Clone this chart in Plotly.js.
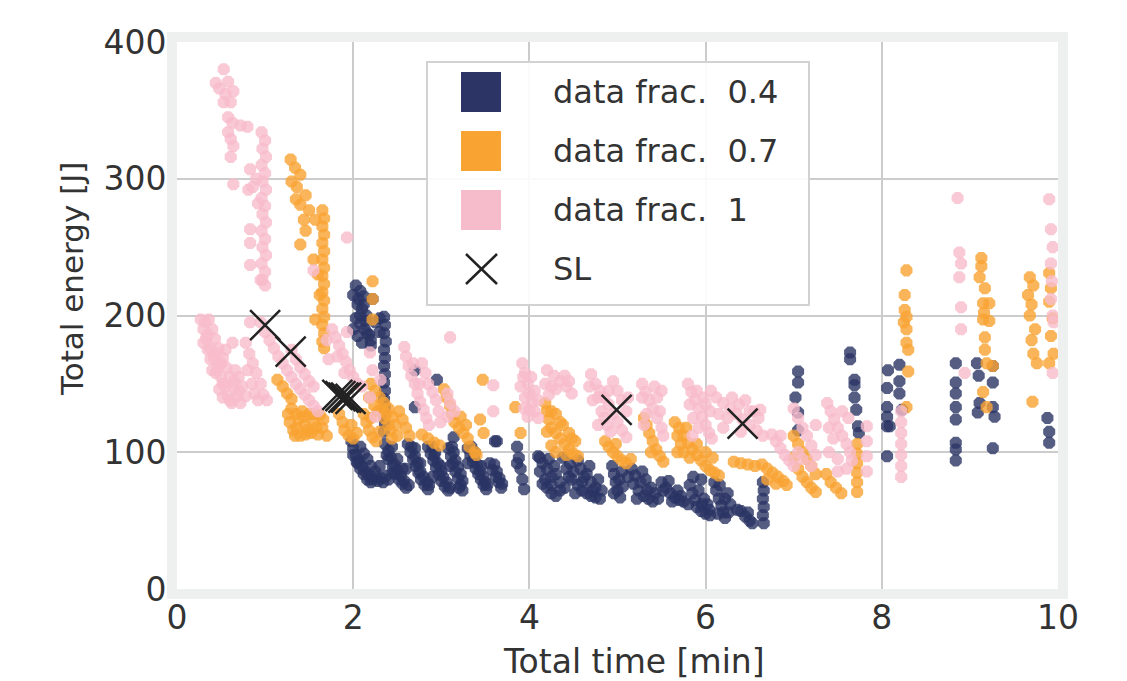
<!DOCTYPE html>
<html><head><meta charset="utf-8">
<script src="https://cdn.plot.ly/plotly-3.0.1.min.js"></script>
<style>body{margin:0;background:#fff}#chart{width:1127px;height:681px}</style>
</head><body><div id="chart"></div>
<script>
// ---- data: [time min, energy J]
var seriesNames = ["data frac. 0.4", "data frac. 0.7", "data frac. 1", "SL"];
var navyPoints = [
[2.03,222],[2.08,218],[2.12,214],[2.05,208],[2.1,205],[2.15,200],[2.03,198],[2.08,194],[2.13,190],[2.18,186],[2.05,185],[2.1,180],[2.2,178],[2.22,212],[2.25,195],[2.16,187],[2.2,182],
[2.0,215],[2.06,212],[2.12,208],[2.0,190],[2.14,196],[2.08,200],
[2.35,199],[2.36,193],[2.35,187],[2.37,181],[2.35,175],[2.36,169],[2.35,163],[2.36,157],[2.35,151],[2.36,145],[2.35,139],[2.36,133],[2.35,127],[2.36,121],[2.35,115],[2.3,198],[2.3,188],
[1.98,108],[2.0,103],[2.03,98],[2.07,94],[2.1,90],[2.14,86],[2.18,83],[2.22,80],[2.28,79],[2.34,78],[2.4,80],[2.08,104],[2.12,99],[2.16,95],[2.2,90],[2.25,86],[2.05,92],[2.3,90],
[2.0,98],[2.04,93],[2.08,88],[2.12,84],[2.16,80],[2.2,78],[2.26,82],[2.32,81],[2.38,83],
[2.36,106],[2.4,101],[2.43,96],[2.47,91],[2.5,87],[2.54,83],[2.58,79],[2.63,76],[2.44,104],[2.5,95],[2.56,88],[2.45,85],
[2.4,95],[2.45,90],[2.48,84],[2.52,80],[2.56,77],[2.6,74],[2.38,98],
[2.62,106],[2.65,100],[2.68,95],[2.71,90],[2.74,85],[2.77,80],[2.81,76],[2.85,73],[2.7,103],[2.76,92],[2.6,88],
[2.66,104],[2.7,97],[2.73,92],[2.76,86],[2.8,82],[2.84,78],[2.86,76],
[2.85,104],[2.88,99],[2.91,94],[2.94,89],[2.97,84],[3.0,79],[3.04,75],[3.08,72],[2.93,100],[2.99,90],[2.9,82],
[2.9,104],[2.92,97],[2.96,92],[3.0,86],[3.02,82],[3.06,78],[3.1,74],
[3.08,103],[3.11,97],[3.13,92],[3.16,86],[3.19,81],[3.22,76],[3.24,72],[3.14,100],[3.1,90],
[3.12,104],[3.16,94],[3.19,89],[3.22,84],[3.24,79],[3.2,74],
[3.3,103],[3.33,98],[3.36,93],[3.39,88],[3.42,84],[3.45,80],[3.48,76],[3.51,73],[3.38,100],[3.3,92],[3.45,90],
[3.34,104],[3.37,96],[3.41,91],[3.44,86],[3.48,82],[3.5,78],[3.52,76],
[3.55,92],[3.58,87],[3.62,82],[3.65,78],[3.68,74],[3.63,108],[3.6,91],[3.63,86],[3.66,81],[3.69,77],
[3.88,96],[3.9,88],[3.92,80],[3.94,73],[3.86,92],
[2.95,153],[2.7,133],[2.7,160],[3.14,111],[3.61,108],[3.86,104],
[4.1,97],[4.15,92],[4.12,86],[4.18,80],[4.2,74],[4.25,70],[4.3,68],[4.22,95],[4.28,90],[4.3,84],[4.35,78],[4.4,74],[4.38,96],[4.42,88],[4.15,77],[4.25,82],
[4.12,96],[4.2,88],[4.25,76],[4.35,72],[4.45,82],
[4.46,92],[4.5,86],[4.48,80],[4.55,76],[4.6,72],[4.65,70],[4.7,68],[4.75,67],[4.8,66],[4.58,88],[4.62,82],[4.7,78],[4.75,74],[4.82,72],[4.55,94],[4.68,90],
[4.52,70],[4.6,78],[4.65,84],[4.72,72],[4.78,80],
[4.94,90],[4.96,84],[4.98,78],[5.0,72],[5.03,67],[5.05,86],[5.06,75],[4.96,70],[5.02,80],
[5.16,88],[5.2,83],[5.18,77],[5.24,72],[5.3,68],[5.35,66],[5.4,64],[5.28,86],[5.32,80],[5.38,74],[5.43,70],[5.22,66],
[5.12,82],[5.26,78],[5.34,72],[5.46,66],
[5.5,78],[5.55,74],[5.6,70],[5.65,67],[5.7,65],[5.75,64],[5.58,79],[5.68,72],[5.52,72],[5.62,64],[5.72,68],
[5.82,76],[5.85,70],[5.88,65],[5.9,60],[5.95,57],[6.0,55],[6.05,54],[5.92,72],[5.98,66],[6.02,62],[5.86,82],[5.95,80],[5.8,62],[5.96,62],[6.04,58],
[6.1,78],[6.12,72],[6.15,66],[6.18,61],[6.2,56],[6.22,52],[6.25,70],[6.28,62],[6.14,55],[6.16,76],[6.22,66],[6.26,56],
[6.4,57],[6.45,53],[6.5,50],[6.53,48],[6.36,58],[6.48,56],
[6.65,78],[6.66,72],[6.65,66],[6.66,60],[6.65,54],[6.66,48],
[7.05,159],[7.05,151],[7.02,140],[7.05,129],[7.05,116],
[7.64,173],[7.64,168],[7.69,153],[7.69,149],[7.69,140],[7.71,131],[7.73,119],[7.74,114],
[8.07,160],[8.06,147],[8.2,164],[8.2,152],[8.2,143],[8.06,133],[8.06,126],[8.06,119],[8.09,119],[8.23,131],[8.06,97],
[8.84,165],[8.84,151],[8.84,143],[8.84,133],[8.84,124],[8.84,107],[8.84,102],[8.84,94],
[9.08,165],[9.1,156],[9.26,163],[9.26,151],[9.11,136],[9.09,129],[9.26,133],[9.28,126],[9.26,103],
[9.88,125],[9.9,115],[9.9,107]
];
var orangePoints = [
[1.29,314],[1.34,308],[1.4,303],[1.3,298],[1.36,294],[1.46,288],[1.4,281],[1.5,277],[1.57,270],[1.46,262],[1.4,252],[1.35,285],[1.44,270],
[1.65,277],[1.67,271],[1.65,265],[1.67,259],[1.65,253],[1.67,247],[1.65,241],[1.67,235],[1.65,229],[1.67,223],[1.65,217],[1.67,211],[1.65,205],[1.67,199],[1.65,193],[1.67,187],[1.65,181],[1.67,176],[1.55,241],[1.57,197],[1.6,230],[1.62,215],
[1.14,153],[1.2,148],[1.25,143],[1.3,139],
[1.3,132],[1.35,128],[1.28,122],[1.32,116],[1.4,112],[1.45,120],[1.5,128],[1.55,122],[1.52,114],[1.6,113],[1.65,118],[1.7,112],[1.38,124],[1.62,127],[1.34,112],[1.46,113],
[1.26,128],[1.42,130],[1.48,116],[1.56,128],[1.58,118],[1.66,124],[1.36,118],[1.44,126],
[1.84,128],[1.88,122],[1.9,116],[1.95,112],[2.0,110],[2.04,114],[1.98,120],
[2.12,128],[2.15,122],[2.18,116],[2.22,111],[2.26,108],[2.2,125],
[2.2,150],[2.25,145],[2.3,140],[2.35,136],[2.4,132],[2.45,126],[2.48,120],[2.42,116],[2.5,112],[2.28,130],[2.35,125],[2.4,120],
[2.18,140],[2.24,134],[2.32,132],[2.38,128],[2.44,110],[2.3,115],
[2.52,130],[2.56,124],[2.6,118],[2.64,112],
[2.78,113],[2.85,110],[2.92,107],[2.98,105],
[3.03,146],[3.06,140],[3.1,134],[3.12,128],[3.15,122],[3.2,118],[3.25,114],[3.3,110],[3.22,126],[3.28,120],[3.32,104],[3.38,100],[3.4,98],
[3.47,153],[3.44,124],[3.48,114],[3.84,133],[3.9,114],[2.22,225],[2.22,212],[2.22,197],
[4.18,136],[4.2,130],[4.22,124],[4.25,118],[4.3,114],[4.35,110],[4.4,106],[4.45,102],[4.5,99],[4.55,97],[4.3,128],[4.38,120],[4.45,114],[4.52,108],[4.25,105],
[4.2,115],[4.25,130],[4.35,122],[4.42,98],[4.48,110],[4.3,100],
[4.86,108],[4.9,104],[4.95,100],[5.0,97],[5.05,94],[5.1,92],[5.15,95],[4.98,106],
[5.3,125],[5.33,120],[5.36,114],[5.4,108],[5.44,102],[5.48,97],[5.52,93],[5.38,100],
[5.65,122],[5.7,118],[5.75,112],[5.8,107],[5.85,102],[5.9,98],[5.95,94],[6.0,90],[6.05,87],[6.1,85],[6.15,83],[5.72,106],[5.82,96],[5.68,100],[6.08,96],
[5.68,112],[5.75,100],[5.9,106],[6.0,100],[5.78,118],
[6.32,93],[6.4,92],[6.48,91],[6.56,90],
[6.64,91],[6.7,88],[6.76,85],[6.82,82],[6.88,79],[6.92,76],[6.7,80],[6.8,77],
[7.0,112],[7.05,106],[7.1,100],[7.15,95],[7.2,90],[7.05,88],[7.1,82],[7.15,78],[7.2,74],[7.25,71],[7.0,96],[7.25,84],
[7.37,84],[7.42,78],[7.48,74],[7.54,70],
[7.72,106],[7.72,99],[7.72,92],[7.72,85],[7.72,78],[7.72,71],
[8.28,233],[8.26,215],[8.26,204],[8.28,199],[8.28,190],[8.28,180],[8.3,175],[8.3,159],[8.28,133],[8.25,195],
[9.13,242],[9.13,236],[9.11,228],[9.17,220],[9.15,209],[9.22,209],[9.15,197],[9.22,196],[9.17,184],[9.17,175],[9.19,165],[9.26,163],[9.15,144],[9.19,133],[9.16,202],
[9.68,228],[9.72,222],[9.66,215],[9.7,208],[9.68,200],[9.74,190],[9.7,182],[9.72,172],[9.76,165],[9.71,137],
[9.9,231],[9.92,220],[9.9,210],[9.94,198],[9.92,185],[9.95,172],[9.9,165]
];
var pinkPoints = [
[0.53,380],[0.44,370],[0.58,371],[0.64,364],[0.53,356],[0.61,356],[0.58,345],[0.63,341],[0.72,339],[0.8,338],[0.58,334],[0.61,329],[0.64,324],[0.61,316],[0.64,296],[0.55,362],[0.48,366],
[0.96,334],[1.0,328],[0.97,322],[1.01,316],[0.96,310],[1.0,304],[0.97,298],[1.01,292],[0.96,286],[1.0,280],[0.97,274],[1.01,268],[0.96,262],[1.0,256],[0.97,250],[1.01,244],[0.96,238],[1.0,232],[0.97,226],[1.0,222],
[0.81,292],[0.83,307],[0.86,294],[0.83,263],[0.83,253],[0.83,237],[0.95,226],[0.92,282],[0.9,300],
[0.27,197],[0.36,197],[0.3,190],[0.4,190],[0.33,183],[0.43,183],[0.38,176],[0.47,176],[0.42,169],[0.52,169],[0.46,162],[0.56,162],[0.5,155],[0.6,155],[0.7,155],[0.55,148],[0.64,148],[0.74,148],[0.58,141],[0.68,141],[0.78,141],[0.62,136],[0.72,136],
[0.32,195],[0.35,186],[0.45,172],[0.5,165],[0.65,152],[0.7,145],[0.52,150],
[0.3,180],[0.38,168],[0.44,158],[0.48,146],[0.52,140],[0.6,138],[0.66,160],[0.4,160],[0.55,175],[0.35,175],
[0.78,180],[0.82,172],[0.86,165],[0.8,160],[0.9,158],[0.85,150],[0.95,150],[0.88,143],[0.98,142],[1.02,138],[0.92,138],[0.83,195],[0.63,180],
[0.95,195],[1.0,188],[1.05,182],[1.1,176],[1.15,170],[1.2,165],[1.25,160],[1.3,155],[1.35,150],[1.4,146],[1.45,142],[1.5,138],[1.55,134],[1.6,130],[1.3,175],[1.35,168],[1.4,162],[1.45,157],[1.5,152],[1.55,148],
[1.55,233],[1.93,257],
[1.76,190],[1.8,184],[1.84,178],[1.88,172],[1.92,166],[1.96,160],[2.0,155],[2.05,150],[2.1,148],[1.93,188],[1.82,170],[1.9,158],[1.7,182],[1.72,168],
[2.19,173],[2.19,140],[2.31,153],[2.25,126],[2.22,160],
[2.58,177],[2.6,170],[2.63,163],[2.66,156],[2.7,150],[2.73,143],[2.76,137],[2.8,131],[2.83,125],[2.86,120],[2.68,165],[2.75,150],
[2.78,165],[2.82,158],[2.85,150],[2.9,144],[2.94,138],[2.97,130],[2.99,122],
[3.1,184],[3.07,143],[3.07,126],[3.1,136],[3.15,130],[3.59,149],[3.59,130],[3.93,155],[4.0,131],
[3.92,165],[3.95,158],[3.98,150],[4.0,143],[4.03,137],[4.06,130],[4.1,125],[3.95,140],[4.02,155],
[3.9,148],[3.94,132],[4.06,145],[4.1,138],[3.98,126],
[4.2,160],[4.28,156],[4.35,152],[4.42,148],[4.48,143],[4.3,146],
[4.18,150],[4.25,148],[4.4,156],[4.45,152],[4.22,142],
[4.7,157],[4.75,150],[4.8,145],[4.85,140],[4.9,135],[4.95,128],[5.0,122],[5.05,116],[5.1,111],[4.82,130],[4.88,120],[5.0,145],[5.05,138],[4.72,138],[4.95,152],
[4.68,148],[4.78,140],[4.9,145],[4.85,125],[4.78,120],[5.1,130],[5.12,140],[4.92,115],
[5.28,150],[5.32,144],[5.36,138],[5.4,132],[5.45,125],[5.5,118],[5.52,112],[5.33,128],[5.45,140],
[5.28,140],[5.3,120],[5.42,148],[5.48,130],[5.5,145],
[5.8,150],[5.84,144],[5.88,138],[5.92,132],[5.96,126],[6.0,120],[6.04,114],[6.07,110],[5.86,125],[5.98,140],[6.05,130],
[5.82,135],[5.9,145],[5.92,118],[6.0,135],[6.06,145],[5.85,112],
[6.12,140],[6.2,136],[6.28,132],[6.35,128],[6.42,124],[6.5,120],[6.58,116],[6.65,112],[6.3,140],[6.45,138],[6.55,130],[6.2,118],
[6.15,128],[6.25,125],[6.38,135],[6.5,130],[6.6,125],[6.4,115],
[6.75,113],[6.8,108],[6.85,103],[6.9,98],[6.95,94],[7.0,90],[7.05,100],[6.85,112],
[7.0,132],[7.05,125],[7.1,118],[7.15,112],[7.2,105],[7.25,98],[7.1,95],[7.2,90],[7.25,120],
[7.38,136],[7.42,130],[7.46,124],[7.5,118],[7.55,112],[7.6,106],[7.64,100],[7.66,94],[7.6,88],[7.5,86],[7.4,100],[7.45,110],[7.55,130],[7.62,125],[7.4,118],[7.5,95],
[7.83,119],[7.83,108],[7.83,97],[7.83,86],
[8.22,130],[8.22,122],[8.22,114],[8.22,106],[8.22,98],[8.22,90],[8.22,82],
[6.62,131],[8.86,286],[8.88,246],[8.9,238],[8.88,228],[8.9,206],[8.9,190],[8.94,158],
[9.9,285],[9.92,263],[9.94,250],[9.92,238],[9.93,225],[9.92,212],[9.94,200],[9.95,195],[9.94,158]
];
var slX = [1.0, 1.29, 1.82, 1.855, 1.89, 1.92, 1.97, 4.99, 6.42];
var slY = [193, 173.5, 142, 141, 140, 140, 139, 131, 121];
var xTicks = [0, 2, 4, 6, 8, 10];
var yTicks = [0, 100, 200, 300, 400];
var seriesColors = ["#2b3464", "#f9a332", "#f7bccb"];

// ---- layout helpers
var W = 1127, H = 681, ML = 177, MR = 69, MT = 42, MB = 92;
var PW = W - ML - MR, PH = H - MT - MB;
function px(x) { return (x - ML) / PW; }
function py(y) { return (H - MB - y) / PH; }
var FONT = "DejaVu Sans, Verdana, sans-serif";

function scatterTrace(pts, color, name) {
  return {
    type: "scatter", mode: "markers", name: name, showlegend: false,
    x: pts.map(function (p) { return p[0]; }),
    y: pts.map(function (p) { return p[1]; }),
    marker: { symbol: "octagon", size: 13, color: color, opacity: 0.8, line: { width: 0 } },
    hoverinfo: "skip"
  };
}
var traces = [
  scatterTrace(navyPoints, seriesColors[0], seriesNames[0]),
  scatterTrace(orangePoints, seriesColors[1], seriesNames[1]),
  scatterTrace(pinkPoints, seriesColors[2], seriesNames[2]),
  { type: "scatter", mode: "markers", name: seriesNames[3], showlegend: false, x: slX, y: slY,
    marker: { symbol: "x-thin", size: 30, line: { width: 2.5, color: "#222222" } }, hoverinfo: "skip" }
];

// custom legend
var shapes = [
  { type: "rect", xref: "paper", yref: "paper", x0: px(427), x1: px(809), y0: py(305), y1: py(62),
    line: { color: "#d2d2d2", width: 2 }, fillcolor: "rgba(255,255,255,0.9)", layer: "above" }
];
var rowsY = [92, 151, 210, 269];
for (var i = 0; i < 3; i++) {
  shapes.push({ type: "rect", xref: "paper", yref: "paper", x0: px(461), x1: px(501),
    y0: py(rowsY[i] + 20), y1: py(rowsY[i] - 20), line: { width: 0 }, fillcolor: seriesColors[i], layer: "above" });
}
shapes.push({ type: "line", xref: "paper", yref: "paper", x0: px(466), x1: px(497), y0: py(254), y1: py(284), line: { color: "#222", width: 2.5 }, layer: "above" });
shapes.push({ type: "line", xref: "paper", yref: "paper", x0: px(466), x1: px(497), y0: py(284), y1: py(254), line: { color: "#222", width: 2.5 }, layer: "above" });

var annotations = [];
for (var j = 0; j < 4; j++) {
  annotations.push({ xref: "paper", yref: "paper", x: px(551), y: py(rowsY[j]), xanchor: "left", yanchor: "middle",
    text: seriesNames[j].replace(". ", ".&nbsp; "), showarrow: false, font: { family: FONT, size: 32, color: "#333" } });
}
annotations.push({ xref: "paper", yref: "paper", x: px(72), y: py(279), xanchor: "center", yanchor: "middle",
  text: "Total energy [J]", textangle: -90, showarrow: false, font: { family: FONT, size: 31, color: "#333" } });
annotations.push({ xref: "paper", yref: "paper", x: px(634), y: py(661), xanchor: "center", yanchor: "middle",
  text: "Total time [min]", showarrow: false, font: { family: FONT, size: 33, color: "#333" } });

var axisCommon = {
  showgrid: true, gridcolor: "#cccccc", gridwidth: 2, zeroline: false,
  showline: true, linecolor: "#eef0ef", linewidth: 10, mirror: true, ticks: "",
  tickfont: { family: FONT, size: 33, color: "#333" }, fixedrange: true
};
var layout = {
  width: W, height: H, margin: { l: ML, r: MR, t: MT, b: MB, pad: 0 },
  paper_bgcolor: "#ffffff", plot_bgcolor: "#ffffff", showlegend: false,
  xaxis: Object.assign({}, axisCommon, { range: [0, 10], tickvals: xTicks, ticktext: xTicks.map(String), ticklabelstandoff: -10 }),
  yaxis: Object.assign({}, axisCommon, { range: [0, 400], tickvals: yTicks, ticktext: yTicks.map(String), ticklabelstandoff: -6 }),
  shapes: shapes, annotations: annotations
};
Plotly.newPlot("chart", traces, layout, { displayModeBar: false, staticPlot: true });
</script></body></html>
